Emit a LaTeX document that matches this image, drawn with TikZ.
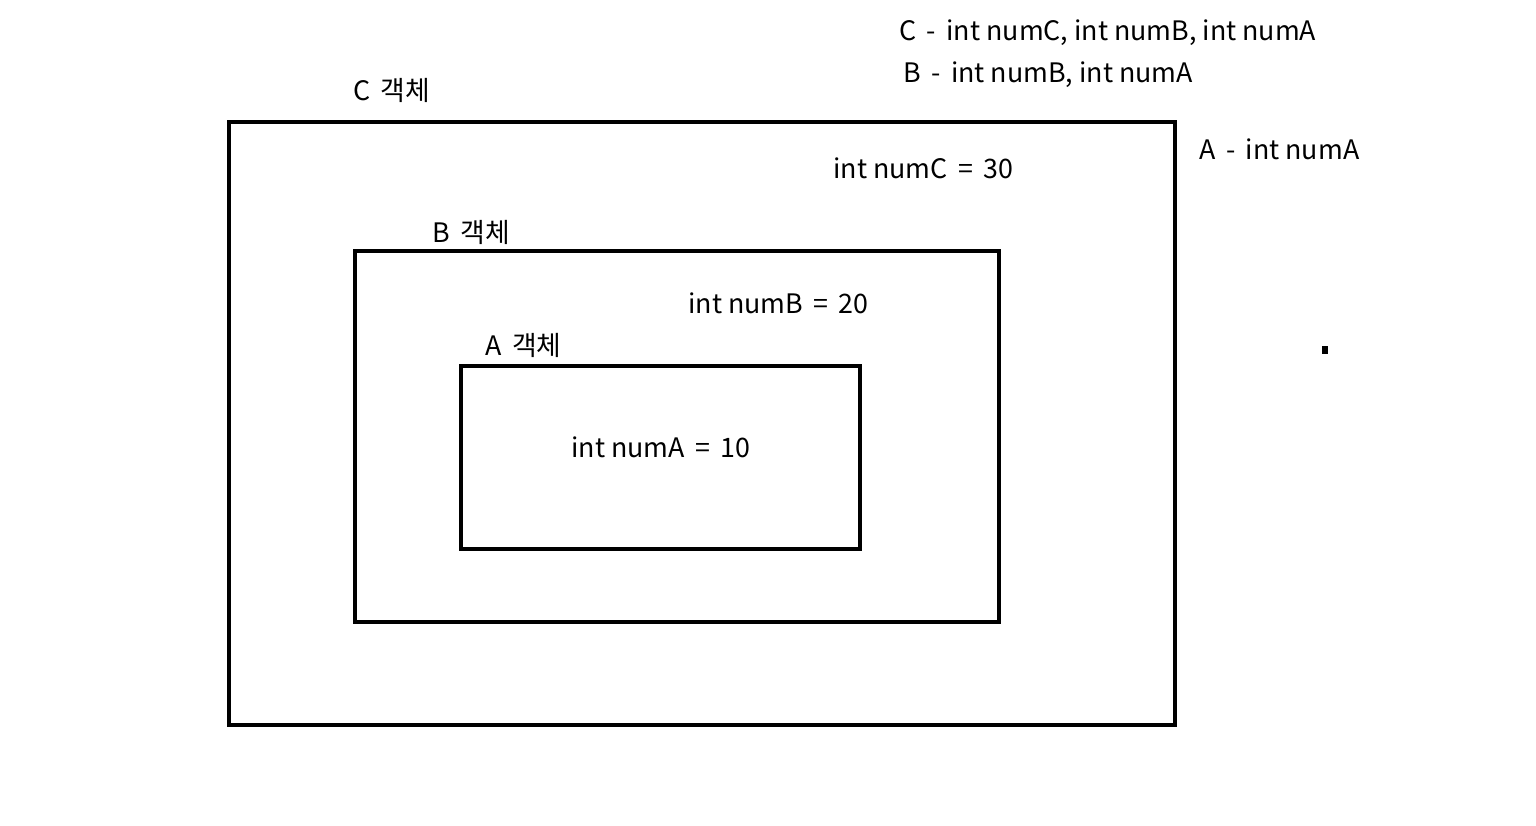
\documentclass[tikz,border=0pt]{standalone}
\usepackage{fontspec}
\setmainfont{Noto Sans CJK KR}
\usetikzlibrary{positioning}

\newcommand{\wsep}[1]{\hspace{2.2pt}#1\hspace{2.2pt}}

\begin{document}
\begin{tikzpicture}[
    x=0.5pt, y=-0.5pt,
    every node/.style={anchor=west, inner sep=0pt, font=\fontsize{13.4}{15}\selectfont},
    objbox/.style={draw, line width=2.2pt}
]

\useasboundingbox (0,0) rectangle (1536,825);

% object boxes
\draw[objbox] (229,122) rectangle (1175,725);
\draw[objbox] (355,251) rectangle (999,622);
\draw[objbox] (461,366) rectangle (860,549);

\node (cobj) at (353,90) {C \,객체};
\node (bobj) at (432,232) {B \,객체};
\node (aobj) at (485,345) {A \,객체};

\node (numc) at (833,168) {int numC \wsep{=} 30};
\node (numb) at (688,303) {int numB \wsep{=} 20};
\node (numa) at (571,447) {int numA \wsep{=} 10};

% member lists
\node (clist) at (899,33) {C \wsep{-} int numC, int numB, int numA};
\node (blist) at (903,75) {B \wsep{-} int numB, int numA};
\node (alist) at (1199,149) {A \wsep{-} int numA};

\fill (1322,346) rectangle (1328,354);

\end{tikzpicture}
\end{document}
